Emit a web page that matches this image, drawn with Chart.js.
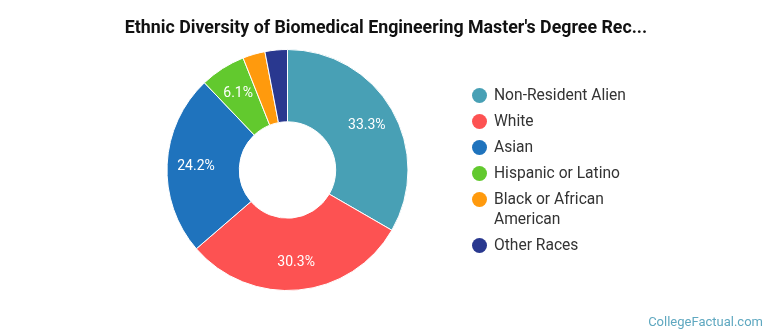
<!DOCTYPE html>
<html><head><meta charset="utf-8">
<script src="https://cdn.jsdelivr.net/npm/chart.js@4/dist/chart.umd.min.js"></script>
<style>
html,body{margin:0;padding:0;background:#fff;}
#wrap{position:relative;width:770px;height:335px;overflow:hidden;font-family:Roboto,sans-serif;}
#title{position:absolute;left:0;width:772px;top:16px;text-align:center;font-weight:bold;font-size:17.8px;color:#111;}
#legend{position:absolute;left:472px;top:85px;}
.li{position:relative;padding-left:22px;font-size:15.6px;line-height:20px;color:#333;margin-bottom:6px;}
.dot{position:absolute;left:0;top:3px;width:15px;height:15px;border-radius:50%;}
#wm{position:absolute;right:7px;bottom:6px;font-size:13px;color:#5fa8c0;}
canvas{position:absolute;left:0;top:0;}
</style></head>
<body><div id="wrap">
<canvas id="c" width="770" height="335"></canvas>
<div id="title">Ethnic Diversity of Biomedical Engineering Master's Degree Rec...</div>
<div id="legend"></div>
<div id="wm">CollegeFactual.com</div>
</div>
<script>
const categories = ["Non-Resident Alien","White","Asian","Hispanic or Latino","Black or African American","Other Races"];
const legendLines = [["Non-Resident Alien"],["White"],["Asian"],["Hispanic or Latino"],["Black or African","American"],["Other Races"]];
const values = [33.3,30.3,24.2,6.1,3.0,3.0];
const colors = ["#48a0b5","#fd5252","#1f73bd","#62c92e","#ff9a0d","#29388f"];

const lg = document.getElementById('legend');
legendLines.forEach((lines,i)=>{
  const d=document.createElement('div');d.className='li';
  d.innerHTML='<span class="dot" style="background:'+colors[i]+'"></span>'+lines.join('<br>');
  lg.appendChild(d);
});

const labelPlugin={id:'lbl',afterDatasetsDraw(chart){
  const ctx=chart.ctx;const meta=chart.getDatasetMeta(0);
  ctx.save();ctx.fillStyle='#fff';ctx.font='14px Roboto';ctx.textAlign='center';ctx.textBaseline='middle';
  meta.data.forEach((arc,i)=>{
    if(values[i]<5)return;
    const p=arc.getProps(['x','y','startAngle','endAngle','innerRadius','outerRadius'],true);
    const a=(p.startAngle+p.endAngle)/2;const r=p.innerRadius+(p.outerRadius-p.innerRadius)*0.6;
    ctx.fillText(values[i].toFixed(1)+'%',p.x+Math.cos(a)*r,p.y+Math.sin(a)*r+1);
  });
  ctx.restore();
}};

new Chart(document.getElementById('c'),{
  type:'doughnut',
  data:{labels:categories,datasets:[{data:values,backgroundColor:colors,borderColor:'#fff',borderWidth:1}]},
  options:{responsive:false,animation:false,cutout:'40%',
    layout:{padding:{left:166,right:361,top:49,bottom:44}},
    plugins:{legend:{display:false},tooltip:{enabled:false},title:{display:false}}},
  plugins:[labelPlugin]
});
</script>
</body></html>
